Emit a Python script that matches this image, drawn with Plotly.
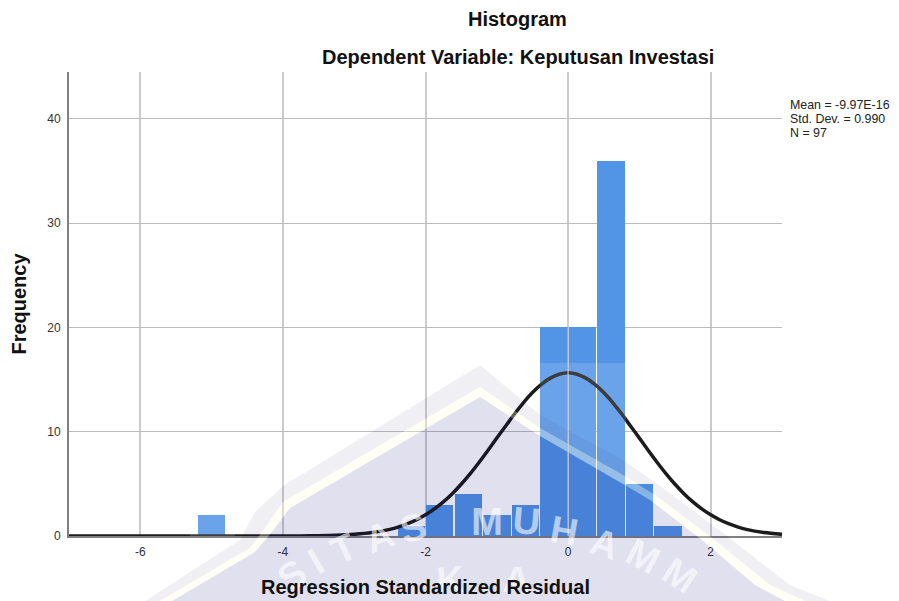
import plotly.graph_objects as go

bin_centers = [-5.0, -2.2, -1.8, -1.4, -1.0, -0.6, -0.2, 0.2, 0.6, 1.0, 1.4]
frequency = [2, 1, 3, 4, 2, 3, 20, 20, 36, 5, 1]
curve_x = [-7, -5, -4, -3.75, -3.5, -3.25, -3, -2.75, -2.5, -2.375, -2.25, -2.125, -2, -1.875, -1.75, -1.625,
           -1.5, -1.375, -1.25, -1.125, -1, -0.875, -0.75, -0.625, -0.5, -0.375, -0.25, -0.125, 0,
           0.125, 0.25, 0.375, 0.5, 0.625, 0.75, 0.875, 1, 1.125, 1.25, 1.375, 1.5, 1.625, 1.75, 1.875,
           2, 2.125, 2.25, 2.375, 2.5, 2.75, 3]
curve_y = [0, 0, 0.0, 0.01, 0.03, 0.07, 0.16, 0.33, 0.64, 0.88, 1.18, 1.56, 2.03, 2.6, 3.27, 4.06,
           4.96, 5.96, 7.05, 8.2, 9.39, 10.55, 11.72, 12.8, 13.76, 14.55, 15.14, 15.51, 15.65,
           15.51, 15.14, 14.55, 13.76, 12.8, 11.72, 10.55, 9.39, 8.2, 7.05, 5.96, 4.96, 4.06, 3.27, 2.6,
           2.03, 1.56, 1.18, 0.88, 0.64, 0.33, 0.16]
x_ticks = [-6, -4, -2, 0, 2]
x_tick_labels = ["-6", "-4", "-2", "0", "2"]
y_ticks = [0, 10, 20, 30, 40]
stats_lines = ["Mean = -9.97E-16", "Std. Dev. = 0.990", "N = 97"]
stats_line_y = [105, 119, 133]

# page-pixel frame of the plot area (the page body adds an 8 px offset)
PX_L, PX_R, PX_T, PX_B = 69, 782, 72, 536


def px(x):
    return (x - PX_L) / (PX_R - PX_L)


def py(y):
    return (PX_B - y) / (PX_B - PX_T)


def poly(points):
    return "M " + " L ".join(f"{px(a):.4f} {py(b):.4f}" for a, b in points) + " Z"


# background watermark, decoration only
outer_edge = [(145, 601), (240, 540), (255, 512), (283, 486), (480, 365), (540, 415), (623, 460), (660, 486),
              (722, 532), (790, 585), (830, 601)]
cream_edge = [(160, 601), (250, 548), (265, 528), (283, 502), (480, 387), (540, 428), (623, 475), (655, 495),
              (712, 538), (770, 585), (805, 601)]
inner_edge = [(172, 601), (255, 552), (272, 532), (290, 508), (480, 397), (540, 436), (623, 484), (650, 500),
              (702, 540), (755, 585), (785, 601)]
halo_upper = [(540, 363), (626, 363), (626, 484), (623, 484), (540, 436)]
halo_small = [(190, 500), (235, 500), (235, 536), (190, 536)]
letters = [("S", 290, 572, -35), ("I", 314, 558, -30), ("T", 342, 545, -25), ("A", 378, 533, -20), ("S", 412, 524, -15),
           ("M", 487, 518, 0), ("U", 527, 517, 5), ("H", 565, 527, 10), ("A", 606, 540, 18), ("M", 645, 553, 28),
           ("M", 682, 572, 33), ("K", 450, 576, -4), ("A", 517, 576, 4)]


def band(a, b):
    return poly(a + b[::-1])


shapes = [
    dict(type="path", xref="paper", yref="paper", path=band(outer_edge, cream_edge), fillcolor="rgba(0,0,60,0.06)", line_width=0, layer="above"),
    dict(type="path", xref="paper", yref="paper", path=band(cream_edge, inner_edge), fillcolor="rgba(255,255,225,0.3)", line_width=0, layer="above"),
    dict(type="path", xref="paper", yref="paper", path=poly(inner_edge), fillcolor="rgba(0,0,113,0.12)", line_width=0, layer="above"),
    dict(type="path", xref="paper", yref="paper", path=poly(halo_upper), fillcolor="rgba(255,255,255,0.14)", line_width=0, layer="above"),
    dict(type="path", xref="paper", yref="paper", path=poly(halo_small), fillcolor="rgba(255,255,255,0.14)", line_width=0, layer="above"),
    dict(type="line", xref="x", yref="y", x0=0, x1=0, y0=0, y1=20, line=dict(color="rgba(190,195,205,0.8)", width=1.5), layer="above"),
]
for ch, lx, ly, ang in letters:
    shapes.append(dict(type="rect", xref="paper", yref="paper", x0=px(lx - 22), x1=px(lx + 22), y0=py(ly + 22), y1=py(ly - 22),
                       line_width=0, fillcolor="rgba(0,0,0,0)", layer="above",
                       label=dict(text=ch, textangle=ang, textposition="middle center",
                                  font=dict(family="Liberation Sans, Arial, sans-serif", size=38, weight="bold",
                                            color="rgba(255,255,255,0.6)"))))

fig = go.Figure()
fig.add_trace(go.Bar(x=bin_centers, y=frequency, width=0.385,
                     marker=dict(color="#5294e6", line=dict(width=0))))
fig.add_trace(go.Scatter(x=curve_x, y=curve_y, mode="lines",
                         line=dict(color="#1c1c1c", width=3.5, shape="spline", smoothing=0.8), cliponaxis=False))

TITLE_FONT = dict(size=20, color="#111111", family="Liberation Sans, Arial, sans-serif")
TICK_FONT = dict(size=12, color="#333333", family="Liberation Sans, Arial, sans-serif")

annotations = [
    dict(text="<b>Histogram</b>", xref="paper", yref="paper", x=px(517.5), xanchor="center", y=py(19), yanchor="middle",
         showarrow=False, font=TITLE_FONT),
    dict(text="<b>Dependent Variable: Keputusan Investasi</b>", xref="paper", yref="paper", x=px(517.5), xanchor="center",
         y=py(57), yanchor="middle", showarrow=False, font=TITLE_FONT),
]
for line, ly in zip(stats_lines, stats_line_y):
    annotations.append(dict(text=line, xref="paper", yref="paper", x=px(790), xanchor="left", y=py(ly), yanchor="middle",
                            showarrow=False, xshift=-2, font=dict(size=12.4, color="#222222", family="Liberation Sans, Arial, sans-serif")))

fig.update_layout(
    width=891, height=593, autosize=False, showlegend=False,
    paper_bgcolor="white", plot_bgcolor="white", bargap=0,
    margin=dict(l=61, r=117, t=64, b=65, autoexpand=False),
    font=dict(family="Liberation Sans, Arial, sans-serif", color="#222222"),
    xaxis=dict(range=[-7, 3], tickvals=x_ticks, ticktext=x_tick_labels, ticks="", showline=True, linecolor="#808080",
               linewidth=1.5, zeroline=False, showgrid=True, gridcolor="#cccccc", gridwidth=1.5, tickfont=TICK_FONT,
               ticklabelstandoff=4,
               title=dict(text="<b>Regression Standardized Residual</b>", font=TITLE_FONT, standoff=22)),
    yaxis=dict(range=[0, 44.5], tickvals=y_ticks, ticks="", showline=True, linecolor="#808080", linewidth=2,
               zeroline=False, showgrid=True, gridcolor="#bcbcbc", gridwidth=1.2, tickfont=TICK_FONT, ticklabelstandoff=4,
               title=dict(text="<b>Frequency</b>", font=TITLE_FONT, standoff=15)),
    shapes=shapes,
    annotations=annotations,
)
fig.write_html("out.html")
